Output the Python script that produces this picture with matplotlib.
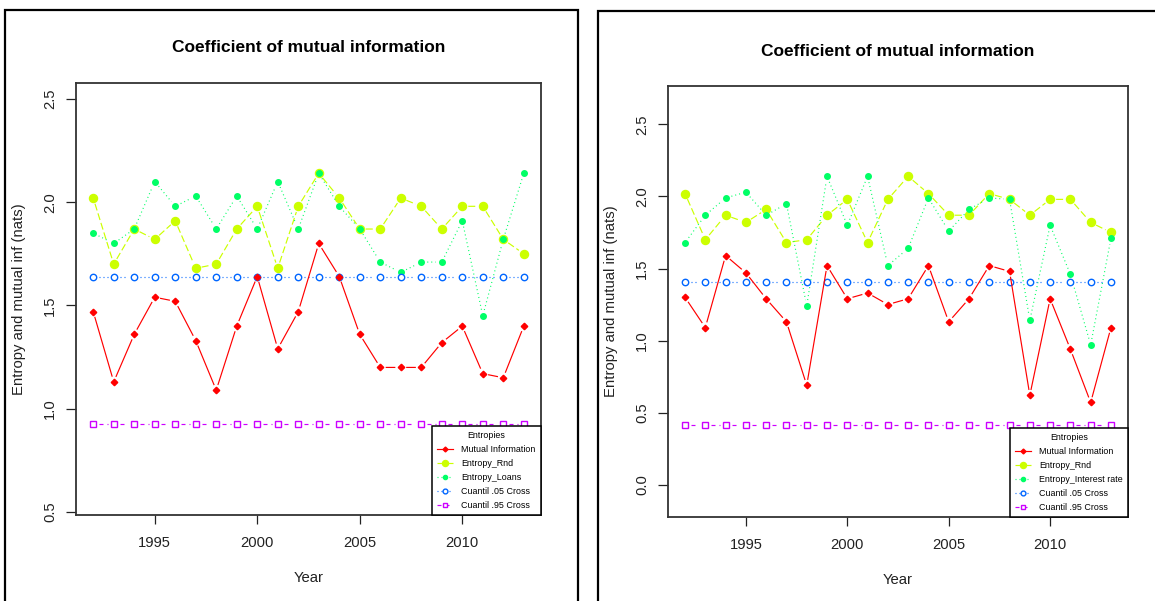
import numpy as np
import matplotlib
matplotlib.use("Agg")
import matplotlib.pyplot as plt
from matplotlib.lines import Line2D
from matplotlib.patches import Rectangle

plt.rcParams["font.family"] = ["Liberation Sans", "DejaVu Sans"]
plt.rcParams["lines.scale_dashes"] = False

W, H, DPI = 1155, 601, 100

years = list(range(1992, 2014))
year_ticks = [1995, 2000, 2005, 2010]

# shared random-entropy reference
entropy_rnd = [2.02, 1.70, 1.87, 1.82, 1.91, 1.68, 1.70, 1.87, 1.98, 1.68, 1.98,
               2.14, 2.02, 1.87, 1.87, 2.02, 1.98, 1.87, 1.98, 1.98, 1.82, 1.75]

# left chart: loans
mi_loans = [1.47, 1.13, 1.36, 1.54, 1.52, 1.33, 1.09, 1.40, 1.64, 1.29, 1.47,
            1.80, 1.64, 1.36, 1.20, 1.20, 1.20, 1.32, 1.40, 1.17, 1.15, 1.40]
entropy_loans = [1.85, 1.80, 1.87, 2.10, 1.98, 2.03, 1.87, 2.03, 1.87, 2.10, 1.87,
                 2.14, 1.98, 1.87, 1.71, 1.66, 1.71, 1.71, 1.91, 1.45, 1.82, 2.14]
q05_loans = 1.636
q95_loans = 0.924
yticks_loans = [0.5, 1.0, 1.5, 2.0, 2.5]

# right chart: interest rate
mi_rate = [1.30, 1.09, 1.59, 1.47, 1.29, 1.13, 0.69, 1.52, 1.29, 1.33, 1.25,
           1.29, 1.52, 1.13, 1.29, 1.52, 1.48, 0.62, 1.29, 0.94, 0.57, 1.09]
entropy_rate = [1.68, 1.87, 1.99, 2.03, 1.87, 1.95, 1.24, 2.14, 1.80, 2.14, 1.52,
                1.64, 1.99, 1.76, 1.91, 1.99, 1.98, 1.14, 1.80, 1.46, 0.97, 1.71]
q05_rate = 1.407
q95_rate = 0.414
yticks_rate = [0.0, 0.5, 1.0, 1.5, 2.0, 2.5]

# R rainbow(5)
COLORS = ["#FF0000", "#CCFF00", "#00FF66", "#0066FF", "#CC00FF"]
PX = 0.72  # one pixel in points at 100 dpi


def fig_box(x0, y0, x1, y1):
    """pixel box (top-left origin) -> figure fraction rect"""
    return [x0 / W, 1 - y1 / H, (x1 - x0) / W, (y1 - y0) / H]


def gapped_line(ax, x, y, gap, **kw):
    # R type="b": segments stop short of the points
    pts = ax.transData.transform(np.column_stack([x, y]))
    inv = ax.transData.inverted()
    xs, ys = [], []
    for p0, p1 in zip(pts[:-1], pts[1:]):
        d = p1 - p0
        length = np.hypot(*d)
        if length <= 2 * gap:
            continue
        u = d / length
        a = inv.transform(p0 + u * gap)
        b = inv.transform(p1 - u * gap)
        xs += [a[0], b[0], np.nan]
        ys += [a[1], b[1], np.nan]
    ax.plot(xs, ys, **kw)


STYLES = [
    dict(color=COLORS[0], dashes=None, marker="D", ms=3.3, mfc=COLORS[0], z=6),
    dict(color=COLORS[1], dashes=(7 * PX, 3 * PX), marker="o", ms=5.8, mfc=COLORS[1], z=3),
    dict(color=COLORS[2], dashes=(1 * PX, 3 * PX), marker="o", ms=4.0, mfc=COLORS[2], z=4),
    dict(color=COLORS[3], dashes=(1 * PX, 3 * PX), marker="o", ms=4.6, mfc="white", z=5),
    dict(color=COLORS[4], dashes=(4 * PX, 4 * PX), marker="s", ms=4.6, mfc="white", z=5),
]


def draw_panel(fig, box, ylim, yticks, series, labels, title_gap):
    ax = fig.add_axes(fig_box(*box))
    ax.set_xlim(1991.16, 2013.84)
    ax.set_ylim(*ylim)
    h_px = box[3] - box[1]

    handles = []
    for vals, st, lab in zip(series, STYLES, labels):
        line_kw = dict(color=st["color"], lw=0.85, zorder=st["z"])
        if st["dashes"]:
            line_kw["dashes"] = st["dashes"]
        gapped_line(ax, years, vals, 6.0, **line_kw)
        ax.plot(years, vals, ls="none", marker=st["marker"], ms=st["ms"],
                mfc=st["mfc"], mec=st["color"], mew=1.0, zorder=st["z"] + 0.5)
        h = Line2D([], [], color=st["color"], lw=0.85, marker=st["marker"],
                   ms=st["ms"] * 0.75, mfc=st["mfc"], mec=st["color"], mew=1.0, label=lab)
        if st["dashes"]:
            h.set_dashes(st["dashes"])
        handles.append(h)

    ax.set_xticks(year_ticks)
    ax.set_yticks(yticks)
    ax.set_yticklabels([f"{v:.1f}" for v in yticks])
    ax.tick_params(axis="x", length=6.7, width=0.9, pad=8.5, labelsize=10.6, colors="#222222")
    ax.tick_params(axis="y", length=7.2, width=0.9, pad=6.5, labelsize=10.6, colors="#222222",
                   labelrotation=90)
    for t in ax.get_yticklabels():
        t.set_va("center")
    for sp in ax.spines.values():
        sp.set_linewidth(1.3)
        sp.set_color("#333333")

    ax.set_title("Coefficient of mutual information", fontsize=12.5, fontweight="bold",
                 y=1 + title_gap / h_px, va="center", pad=0)
    ax.set_xlabel("Year", fontsize=10.7, va="center", color="#222222")
    ax.xaxis.set_label_coords(0.5, -63 / h_px)
    ax.set_ylabel("Entropy and mutual inf (nats)", fontsize=10.7, va="center", color="#222222")
    ax.yaxis.set_label_coords(-57 / (box[2] - box[0]), 0.5)

    leg = ax.legend(handles=handles, loc="lower right", title="Entropies",
                    fontsize=6.4, title_fontsize=6.4, frameon=True, fancybox=False,
                    edgecolor="black", framealpha=1, borderaxespad=0,
                    handlelength=1.8, handletextpad=0.9, borderpad=0.6,
                    labelspacing=0.55)
    leg.get_frame().set_linewidth(1.1)
    leg.set_zorder(10)
    return ax


fig = plt.figure(figsize=(W / DPI, H / DPI), dpi=DPI)

# outer frames of the two screenshots
for x0, y0, x1, y1 in [(4.5, 9.5, 577.5, 640), (597.5, 10.5, 1200, 640)]:
    fig.add_artist(Rectangle((x0 / W, 1 - y1 / H), (x1 - x0) / W, (y1 - y0) / H,
                             transform=fig.transFigure, fill=False, lw=1.6,
                             edgecolor="black", clip_on=False))

draw_panel(fig, (76, 83, 541, 515), (0.4855, 2.577), yticks_loans,
           [mi_loans, entropy_rnd, entropy_loans,
            np.full(len(years), q05_loans), np.full(len(years), q95_loans)],
           ["Mutual Information", "Entropy_Rnd", "Entropy_Loans",
            "Cuantil .05 Cross", "Cuantil .95 Cross"], 35.0)

draw_panel(fig, (668, 86, 1128, 517), (-0.225, 2.767), yticks_rate,
           [mi_rate, entropy_rnd, entropy_rate,
            np.full(len(years), q05_rate), np.full(len(years), q95_rate)],
           ["Mutual Information", "Entropy_Rnd", "Entropy_Interest rate",
            "Cuantil .05 Cross", "Cuantil .95 Cross"], 35.0)

fig.savefig("out.png", dpi=DPI)
